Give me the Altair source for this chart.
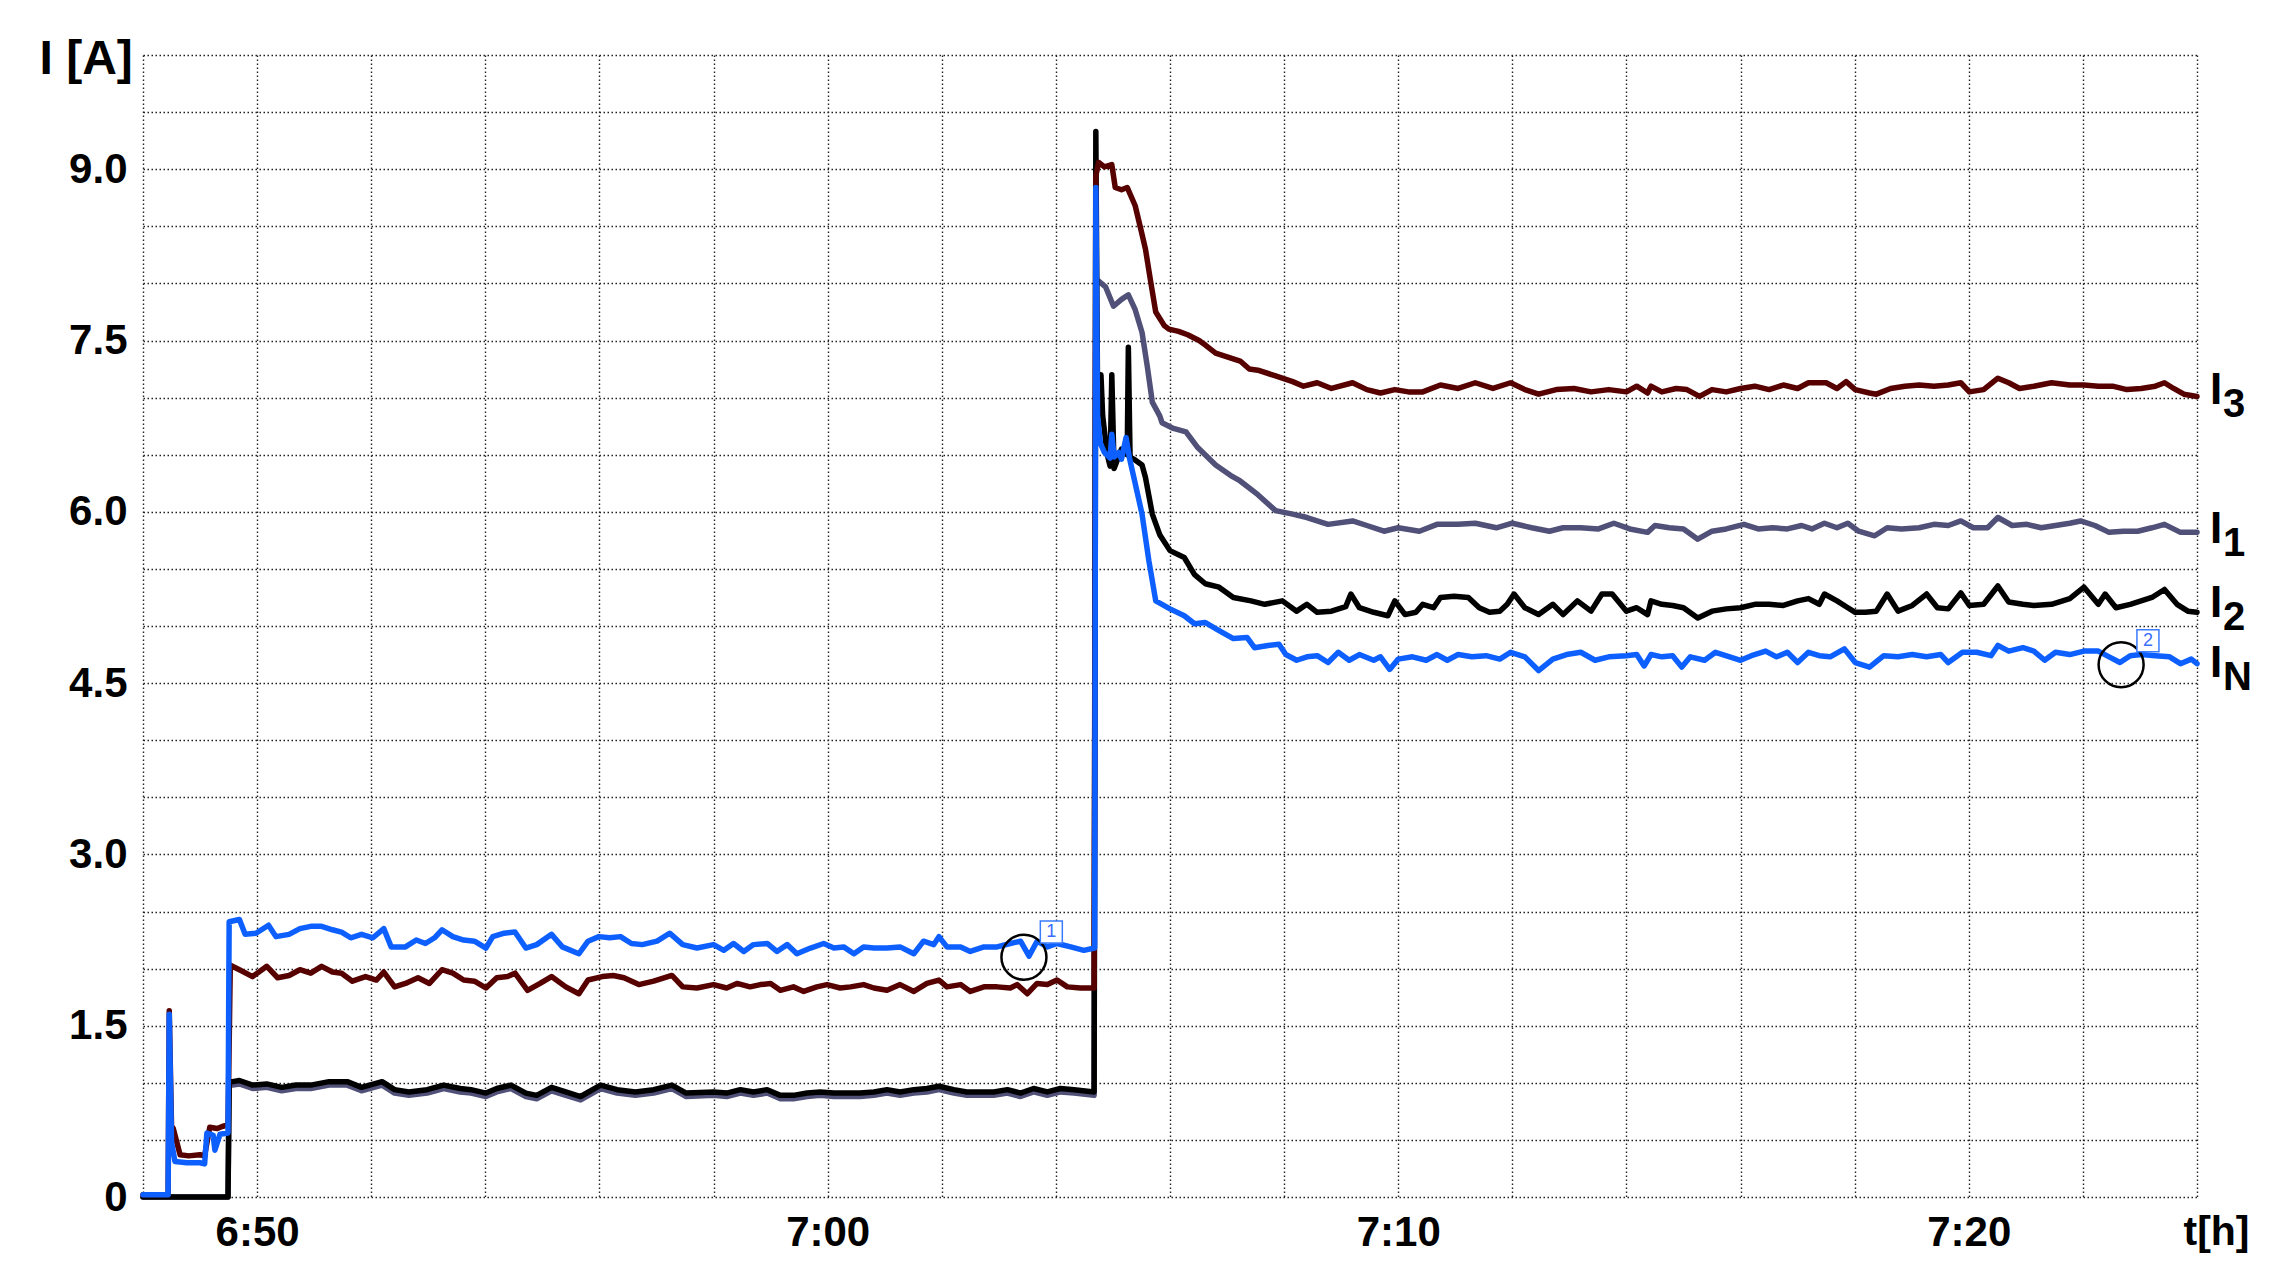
import altair as alt
import pandas as pd

# ---------------- data (time in minutes after 6:00, current in A) ----------------
IN_t = [48.00, 48.44, 48.46, 48.50, 48.56, 48.77, 49.00, 49.08, 49.12, 49.23, 49.26, 49.35, 49.49,
        49.51, 49.69, 49.79, 49.98, 50.20, 50.33, 50.56, 50.75, 50.94, 51.13, 51.32, 51.48, 51.64,
        51.83, 52.03, 52.22, 52.35, 52.60, 52.79, 52.95, 53.11, 53.24, 53.43, 53.62, 53.81, 54.01,
        54.13, 54.33, 54.52, 54.71, 54.90, 55.16, 55.35, 55.64, 55.80, 55.99, 56.18, 56.37, 56.56,
        56.75, 57.01, 57.23, 57.46, 57.71,
        58.00, 58.18, 58.35, 58.53, 58.70, 58.94, 59.11, 59.29, 59.46, 59.70, 59.93, 60.11, 60.28,
        60.46, 60.63, 60.81, 61.04, 61.27, 61.51, 61.68, 61.86, 61.95, 62.09, 62.33, 62.50, 62.74,
        62.97, 63.20, 63.38, 63.53, 63.67, 63.85, 64.02, 64.26, 64.49, 64.68,
        64.70, 64.73, 64.78, 64.85, 64.95, 64.98, 65.02, 65.10, 65.15, 65.23, 65.29, 65.38, 65.51,
        65.63, 65.75,
        66.00, 66.25, 66.43, 66.62, 66.86, 67.11, 67.35, 67.48, 67.72, 67.91, 68.03, 68.22, 68.40,
        68.58, 68.77, 68.95, 69.14, 69.32, 69.57, 69.69, 69.85, 70.00, 70.25, 70.49, 70.68, 70.86,
        71.05, 71.29, 71.54, 71.78, 71.97, 72.22, 72.46, 72.71, 72.95, 73.20, 73.45, 73.69, 74.00,
        74.18, 74.31,
        74.43, 74.62, 74.81, 74.97, 75.12, 75.37, 75.56, 75.81, 76.00, 76.19, 76.44, 76.63, 76.82,
        77.00, 77.19, 77.38, 77.57, 77.82, 78.01, 78.26, 78.51, 78.76, 79.01, 79.26, 79.51, 79.64,
        79.89, 80.14, 80.39, 80.51, 80.70, 80.95, 81.14, 81.33, 81.52, 81.77, 82.02, 82.27, 82.46,
        82.65, 82.83, 83.02, 83.27, 83.52, 83.71, 83.90, 84.00]
IN_v = [0.02, 0.02, 1.60, 0.48, 0.31, 0.30, 0.30, 0.29, 0.56, 0.54, 0.41, 0.55, 0.56,
        2.41, 2.43, 2.30, 2.31, 2.38, 2.28, 2.30, 2.35, 2.37, 2.37, 2.34, 2.32, 2.27,
        2.30, 2.27, 2.35, 2.19, 2.19, 2.25, 2.22, 2.27, 2.34, 2.28, 2.25, 2.24, 2.18,
        2.28, 2.31, 2.32, 2.18, 2.21, 2.30, 2.19, 2.13, 2.24, 2.28, 2.27, 2.28, 2.22,
        2.21, 2.24, 2.31, 2.21, 2.18,
        2.21, 2.16, 2.22, 2.15, 2.21, 2.22, 2.15, 2.21, 2.13, 2.18, 2.22, 2.18, 2.19,
        2.13, 2.19, 2.18, 2.18, 2.19, 2.13, 2.24, 2.21, 2.28, 2.19, 2.19, 2.15, 2.19,
        2.19, 2.22, 2.24, 2.11, 2.24, 2.19, 2.22, 2.19, 2.16, 2.18,
        8.84, 6.85, 6.60, 6.52, 6.47, 6.68, 6.48, 6.52, 6.46, 6.65, 6.47, 6.27, 5.98,
        5.57, 5.22,
        5.15, 5.09, 5.02, 5.03, 4.96, 4.89, 4.90, 4.81, 4.83, 4.84, 4.75, 4.70, 4.73,
        4.74, 4.68, 4.77, 4.70, 4.75, 4.70, 4.73, 4.62, 4.71, 4.73, 4.70, 4.75, 4.70,
        4.75, 4.73, 4.74, 4.71, 4.77, 4.73, 4.61, 4.71, 4.75, 4.77, 4.70, 4.73, 4.74,
        4.75, 4.65,
        4.75, 4.73, 4.74, 4.64, 4.73, 4.70, 4.77, 4.73, 4.70, 4.74, 4.78, 4.73, 4.77,
        4.68, 4.77, 4.74, 4.73, 4.80, 4.68, 4.64, 4.74, 4.73, 4.75, 4.73, 4.75, 4.68,
        4.77, 4.77, 4.74, 4.83, 4.78, 4.81, 4.78, 4.70, 4.77, 4.75, 4.78, 4.78, 4.73,
        4.68, 4.74, 4.75, 4.74, 4.73, 4.67, 4.71, 4.67]

I3_t = [48.00, 48.44, 48.46, 48.50, 48.53, 48.65, 48.80, 49.00, 49.08, 49.17, 49.30, 49.40, 49.49,
        49.53, 49.69, 49.92, 50.17, 50.36, 50.56, 50.75, 50.94, 51.13, 51.32, 51.48, 51.67, 51.90,
        52.09, 52.22, 52.41, 52.60, 52.82, 53.02, 53.24, 53.43, 53.62, 53.81, 54.01, 54.20, 54.39,
        54.52, 54.74, 54.96, 55.16, 55.41, 55.64, 55.80, 56.05, 56.24, 56.43, 56.69, 56.95, 57.27,
        57.46, 57.71, 58.00,
        58.23, 58.41, 58.64, 58.82, 59.00, 59.17, 59.40, 59.58, 59.81, 59.99, 60.22, 60.40, 60.63,
        60.81, 61.04, 61.27, 61.51, 61.74, 61.95, 62.09, 62.33, 62.50, 62.74, 62.97, 63.20, 63.32,
        63.50, 63.67, 63.85, 64.02, 64.20, 64.43, 64.67,
        64.70, 64.75, 64.85, 64.98, 65.04, 65.15, 65.25, 65.39, 65.50, 65.57, 65.66, 65.75, 65.90,
        65.98, 66.15, 66.31, 66.51, 66.62, 66.80, 66.92, 67.23, 67.39, 67.54, 67.85, 68.15, 68.34,
        68.58, 68.83, 69.20, 69.45, 69.69, 69.94, 70.18, 70.43, 70.74, 71.05, 71.35, 71.66, 71.97,
        72.22, 72.46, 72.77, 73.08, 73.38, 73.69, 74.00, 74.18, 74.37,
        74.43, 74.62, 74.87, 75.06, 75.28, 75.50, 75.75, 76.00, 76.25, 76.50, 76.75, 77.00, 77.19,
        77.50, 77.69, 77.85, 78.01, 78.26, 78.38, 78.63, 78.88, 79.13, 79.39, 79.64, 79.86, 80.01,
        80.26, 80.51, 80.70, 80.89, 81.14, 81.45, 81.77, 82.02, 82.27, 82.52, 82.77, 83.02, 83.27,
        83.43, 83.59, 83.77, 84.00]
I3_v = [0.02, 0.02, 1.63, 0.62, 0.60, 0.37, 0.36, 0.37, 0.36, 0.61, 0.60, 0.62, 0.63,
        2.03, 1.99, 1.93, 2.02, 1.92, 1.94, 1.99, 1.96, 2.02, 1.97, 1.96, 1.89, 1.93,
        1.90, 1.97, 1.84, 1.87, 1.92, 1.87, 1.99, 1.96, 1.90, 1.89, 1.83, 1.92, 1.93,
        1.96, 1.81, 1.87, 1.93, 1.84, 1.78, 1.90, 1.93, 1.94, 1.92, 1.86, 1.89, 1.94,
        1.84, 1.83, 1.86,
        1.83, 1.87, 1.84, 1.86, 1.87, 1.81, 1.84, 1.80, 1.84, 1.86, 1.83, 1.84, 1.86,
        1.83, 1.81, 1.86, 1.80, 1.87, 1.90, 1.84, 1.86, 1.80, 1.84, 1.84, 1.83, 1.86,
        1.78, 1.87, 1.86, 1.90, 1.84, 1.83, 1.83,
        8.94, 9.06, 9.02, 9.04, 8.84, 8.82, 8.84, 8.68, 8.45, 8.30, 8.02, 7.75, 7.63,
        7.60, 7.58, 7.55, 7.50, 7.46, 7.39, 7.37, 7.32, 7.25, 7.24, 7.19, 7.14, 7.10,
        7.13, 7.08, 7.13, 7.07, 7.04, 7.07, 7.05, 7.05, 7.11, 7.08, 7.13, 7.08, 7.13,
        7.07, 7.03, 7.07, 7.08, 7.05, 7.07, 7.05, 7.10, 7.04,
        7.10, 7.05, 7.08, 7.07, 7.01, 7.07, 7.05, 7.08, 7.10, 7.07, 7.11, 7.08, 7.13,
        7.13, 7.08, 7.14, 7.07, 7.04, 7.03, 7.08, 7.10, 7.11, 7.10, 7.11, 7.13, 7.05,
        7.07, 7.17, 7.13, 7.08, 7.10, 7.13, 7.11, 7.11, 7.10, 7.10, 7.07, 7.08, 7.10,
        7.13, 7.08, 7.03, 7.01]

I2_t = [48.00, 49.49, 49.51, 49.57, 49.69, 49.92, 50.17, 50.43, 50.68, 50.94, 51.26, 51.58, 51.83,
        52.19, 52.41, 52.66, 52.98, 53.27, 53.56, 53.75, 54.01, 54.20, 54.45, 54.71, 54.90, 55.16,
        55.41, 55.67, 56.02, 56.31, 56.63, 56.95, 57.27, 57.52, 58.00,
        58.23, 58.47, 58.70, 58.94, 59.17, 59.40, 59.64, 59.87, 60.11, 60.34, 60.57, 60.81, 61.04,
        61.27, 61.51, 61.74, 61.95, 62.21, 62.44, 62.68, 62.91, 63.15, 63.38, 63.61, 63.85, 64.08,
        64.32, 64.67,
        64.70, 64.73, 64.76, 64.79, 64.82, 64.90, 64.95, 64.98, 65.02, 65.15, 65.25, 65.27, 65.30,
        65.40, 65.51, 65.57, 65.69, 65.82, 66.00, 66.25, 66.43, 66.62, 66.86, 67.11, 67.42, 67.66,
        67.97, 68.22, 68.40, 68.58, 68.83, 69.08, 69.17, 69.32, 69.57, 69.82, 69.94, 70.12, 70.31,
        70.43, 70.62, 70.74, 70.98, 71.23, 71.42, 71.60, 71.78, 71.91, 72.03, 72.22, 72.46, 72.71,
        72.89, 73.14, 73.38, 73.57, 73.75, 74.00, 74.18, 74.37,
        74.43, 74.62, 74.81, 75.00, 75.25, 75.50, 75.75, 76.00, 76.25, 76.50, 76.75, 77.00, 77.19,
        77.38, 77.47, 77.69, 77.88, 78.01, 78.19, 78.38, 78.57, 78.76, 79.01, 79.26, 79.45, 79.64,
        79.86, 80.01, 80.26, 80.51, 80.70, 80.95, 81.14, 81.45, 81.77, 82.02, 82.27, 82.39, 82.58,
        82.83, 83.02, 83.21, 83.43, 83.65, 83.84, 84.00]
I2_v = [0.00, 0.00, 1.01, 1.01, 1.02, 0.98, 0.99, 0.96, 0.98, 0.98, 1.01, 1.01, 0.96,
        1.01, 0.94, 0.92, 0.94, 0.98, 0.95, 0.94, 0.91, 0.95, 0.98, 0.91, 0.89, 0.96,
        0.92, 0.88, 0.98, 0.94, 0.92, 0.94, 0.98, 0.91, 0.92,
        0.91, 0.94, 0.92, 0.94, 0.89, 0.89, 0.91, 0.92, 0.91, 0.91, 0.91, 0.92, 0.94,
        0.92, 0.94, 0.95, 0.97, 0.94, 0.92, 0.92, 0.92, 0.94, 0.91, 0.95, 0.92, 0.95,
        0.94, 0.92,
        9.33, 7.05, 6.85, 7.20, 6.84, 6.50, 6.40, 7.20, 6.38, 6.55, 6.50, 7.44, 6.48,
        6.45, 6.41, 6.30, 5.98, 5.80, 5.66, 5.60, 5.45, 5.37, 5.34, 5.25, 5.22, 5.19,
        5.22, 5.13, 5.19, 5.12, 5.13, 5.17, 5.28, 5.16, 5.12, 5.09, 5.22, 5.10, 5.12,
        5.19, 5.16, 5.25, 5.26, 5.25, 5.16, 5.12, 5.13, 5.19, 5.28, 5.16, 5.10, 5.19,
        5.10, 5.22, 5.13, 5.28, 5.28, 5.13, 5.16, 5.10,
        5.22, 5.19, 5.18, 5.16, 5.07, 5.13, 5.15, 5.16, 5.19, 5.19, 5.18, 5.22, 5.24,
        5.19, 5.28, 5.22, 5.16, 5.12, 5.12, 5.13, 5.28, 5.13, 5.18, 5.28, 5.16, 5.15,
        5.29, 5.18, 5.19, 5.35, 5.21, 5.19, 5.18, 5.19, 5.24, 5.34, 5.19, 5.28, 5.16,
        5.19, 5.22, 5.25, 5.32, 5.19, 5.13, 5.12]

I1_t = [48.00, 49.49, 49.51, 49.57, 49.69, 49.92, 50.17, 50.43, 50.68, 50.94, 51.26, 51.58, 51.83,
        52.19, 52.41, 52.66, 52.98, 53.27, 53.56, 53.75, 54.01, 54.20, 54.45, 54.71, 54.90, 55.16,
        55.41, 55.67, 56.02, 56.31, 56.63, 56.95, 57.27, 57.52, 58.00,
        58.23, 58.47, 58.70, 58.94, 59.17, 59.40, 59.64, 59.87, 60.11, 60.34, 60.57, 60.81, 61.04,
        61.27, 61.51, 61.74, 61.95, 62.21, 62.44, 62.68, 62.91, 63.15, 63.38, 63.61, 63.85, 64.08,
        64.32, 64.67,
        64.70, 64.75, 64.87, 65.01, 65.15, 65.27, 65.39, 65.51, 65.60, 65.69, 65.82, 65.86, 66.06,
        66.28, 66.49, 66.80, 67.09, 67.23, 67.54, 67.85, 68.15, 68.40, 68.77, 69.20, 69.45, 69.75,
        70.00, 70.37, 70.68, 71.05, 71.35, 71.72, 72.00, 72.34, 72.65, 72.89, 73.20, 73.51, 73.78,
        74.06, 74.37,
        74.50, 74.75, 75.00, 75.25, 75.50, 75.75, 76.06, 76.31, 76.56, 76.82, 77.07, 77.25, 77.47,
        77.69, 77.88, 78.07, 78.35, 78.57, 78.82, 79.13, 79.39, 79.64, 79.86, 80.08, 80.33, 80.51,
        80.76, 81.02, 81.27, 81.52, 81.77, 81.96, 82.21, 82.46, 82.71, 82.96, 83.21, 83.43, 83.71,
        84.00]
I1_v = [0.00, 0.00, 0.98, 0.98, 0.99, 0.95, 0.96, 0.93, 0.95, 0.95, 0.98, 0.98, 0.93,
        0.98, 0.91, 0.89, 0.91, 0.95, 0.92, 0.91, 0.88, 0.92, 0.95, 0.88, 0.86, 0.93,
        0.89, 0.85, 0.95, 0.91, 0.89, 0.91, 0.95, 0.88, 0.89,
        0.88, 0.91, 0.89, 0.91, 0.86, 0.86, 0.88, 0.89, 0.88, 0.88, 0.88, 0.89, 0.91,
        0.89, 0.91, 0.92, 0.94, 0.91, 0.89, 0.89, 0.89, 0.91, 0.88, 0.92, 0.89, 0.92,
        0.91, 0.89,
        8.00, 8.02, 7.97, 7.80, 7.86, 7.90, 7.77, 7.57, 7.28, 6.96, 6.84, 6.78, 6.73,
        6.70, 6.56, 6.41, 6.31, 6.27, 6.15, 6.01, 5.98, 5.95, 5.89, 5.92, 5.88, 5.83,
        5.86, 5.83, 5.89, 5.89, 5.90, 5.86, 5.90, 5.86, 5.83, 5.86, 5.86, 5.85, 5.90,
        5.85, 5.82,
        5.88, 5.86, 5.85, 5.76, 5.83, 5.85, 5.89, 5.85, 5.86, 5.85, 5.88, 5.85, 5.90,
        5.86, 5.90, 5.83, 5.79, 5.86, 5.85, 5.86, 5.89, 5.88, 5.92, 5.86, 5.86, 5.95,
        5.88, 5.89, 5.86, 5.88, 5.90, 5.92, 5.88, 5.82, 5.83, 5.83, 5.86, 5.89, 5.82,
        5.82]

series_names = ["I1", "I2", "I3", "IN"]          # drawing order: bottom -> top
series_colors = ["#505078", "#000000", "#560000", "#0d60ff"]
series_data = {"I1": (I1_t, I1_v), "I2": (I2_t, I2_v), "I3": (I3_t, I3_v), "IN": (IN_t, IN_v)}

# right-hand series labels: anchor values (A) and subscripts
label_sub = ["3", "1", "2", "N"]
label_value = [6.94, 5.73, 5.08, 4.55]

# circled markers and numbered boxes
marker_t = [63.44, 82.67]
marker_v = [2.10, 4.66]
box_t = [63.92, 83.14]
box_v = [2.32, 4.87]
box_text = ["1", "2"]

# axis ticks
x_grid = list(range(48, 85, 2))
y_grid = [i * 0.5 for i in range(21)]

FONT = "Liberation Sans"

x_scale = alt.Scale(domain=[48, 84], nice=False, zero=False)
y_scale = alt.Scale(domain=[0, 10], nice=False)

x_axis = alt.Axis(
    values=x_grid, grid=True, domain=False, ticks=False, tickSize=0,
    labelExpr="datum.value % 10 == 0 ? (6 + floor(datum.value / 60)) + ':' + (datum.value % 60 < 10 ? '0' : '') + (datum.value % 60) : ''",
    labelFont=FONT, labelFontSize=42, labelFontWeight="bold", labelColor="black",
    labelPadding=15, labelOverlap=False, labelFlush=False, labelBound=False,
    title="t[h]", titleFont=FONT, titleFontSize=41, titleFontWeight="bold", titleColor="black",
    titleAlign="left", titleBaseline="alphabetic", titleX=2040, titleY=47, titleAnchor="start",
)
y_axis = alt.Axis(
    values=y_grid, grid=True, domain=False, ticks=False, tickSize=0,
    labelExpr="datum.value % 1.5 == 0 ? (datum.value == 0 ? '0' : format(datum.value, '.1f')) : ''",
    labelFont=FONT, labelFontSize=42, labelFontWeight="bold", labelColor="black",
    labelPadding=16, labelOverlap=False, labelBound=False, labelFlush=False,
    title="I [A]", titleFont=FONT, titleFontSize=48, titleFontWeight="bold", titleColor="black",
    titleAngle=0, titleAlign="left", titleBaseline="alphabetic", titleX=-104, titleY=18,
)


def X():
    return alt.X("t:Q", scale=x_scale, axis=x_axis)


def Y():
    return alt.Y("v:Q", scale=y_scale, axis=y_axis)


layers = []
for name, color in zip(series_names, series_colors):
    t, v = series_data[name]
    df = pd.DataFrame({"t": t, "v": v})
    layers.append(
        alt.Chart(df).mark_line(color=color, strokeWidth=5.5, strokeJoin="round", strokeCap="round")
        .encode(x=X(), y=Y())
    )

marker_df = pd.DataFrame({"t": marker_t, "v": marker_v})
layers.append(
    alt.Chart(marker_df).mark_point(shape="circle", size=2025, filled=False, stroke="black",
                                    strokeWidth=2.5, opacity=1)
    .encode(x=X(), y=Y())
)

box_df = pd.DataFrame({"t": box_t, "v": box_v, "txt": box_text})
layers.append(
    alt.Chart(box_df).mark_square(size=484, filled=True, fill="white", stroke="#3a7bff",
                                  strokeWidth=1.5, opacity=1)
    .encode(x=X(), y=Y())
)
layers.append(
    alt.Chart(box_df).mark_text(font=FONT, fontSize=18, color="#3a6dff", align="center",
                                baseline="middle")
    .encode(x=X(), y=Y(), text="txt:N")
)

lab_df = pd.DataFrame({"t": [84] * 4, "v": label_value, "main": ["I"] * 4, "sub": label_sub})
layers.append(
    alt.Chart(lab_df).mark_text(font=FONT, fontSize=44, fontWeight="bold", color="black",
                                align="left", baseline="alphabetic", dx=13)
    .encode(x=X(), y=Y(), text="main:N")
)
layers.append(
    alt.Chart(lab_df).mark_text(font=FONT, fontSize=40, fontWeight="bold", color="black",
                                align="left", baseline="alphabetic", dx=26, dy=13)
    .encode(x=X(), y=Y(), text="sub:N")
)

chart = alt.layer(*layers).properties(
    width=2054, height=1142,
    autosize=alt.AutoSizeParams(type="none"),
    padding={"left": 135, "top": 47, "right": 85, "bottom": 70},
    background="white",
).configure_view(stroke=None).configure_axis(
    gridColor="#222222", gridDash=[1.5, 2.5], gridWidth=1.4, gridOpacity=1,
)

chart.save("out.html", embed_options={"renderer": "svg", "actions": False})
